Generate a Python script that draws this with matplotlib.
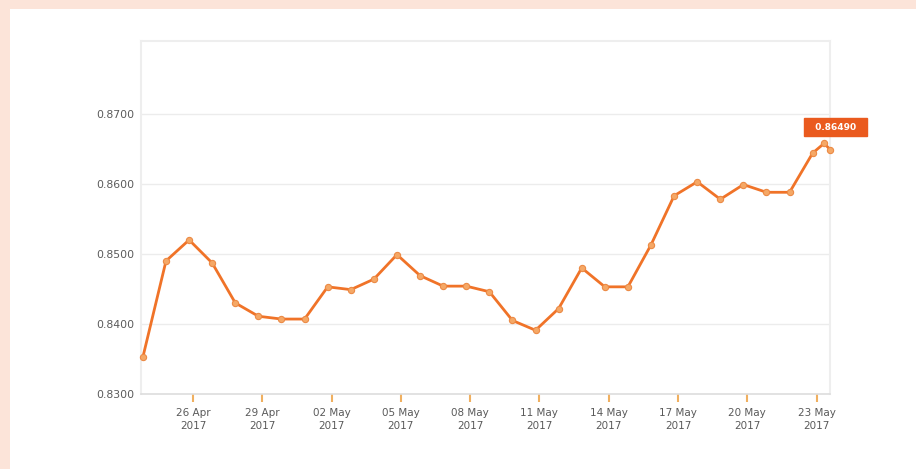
import matplotlib
matplotlib.use("Agg")
import matplotlib.pyplot as plt
import pandas as pd
from matplotlib.patches import Rectangle

# Data (EUR/GBP-like daily rate)
dates = list(pd.date_range("2017-04-24", "2017-05-23", freq="D")) + [
    pd.Timestamp("2017-05-23 12:00"), pd.Timestamp("2017-05-23 18:00")]
values = [0.8353, 0.8490, 0.8520, 0.8487, 0.8430, 0.8411, 0.8407, 0.8407,
          0.8453, 0.8449, 0.8464, 0.8499, 0.8469, 0.8454, 0.8454, 0.8446,
          0.8405, 0.8391, 0.8422, 0.8480, 0.8453, 0.8453, 0.8513, 0.8583,
          0.8603, 0.8578, 0.8599, 0.8588, 0.8588, 0.8644, 0.8658, 0.8649]
tick_dates = pd.date_range("2017-04-26", "2017-05-23", freq="3D")
tick_labels = [d.strftime("%d %b\n%Y") for d in tick_dates]
y_ticks = [0.8300, 0.8400, 0.8500, 0.8600, 0.8700]
last_label = "0.86490"

fig = plt.figure(figsize=(9.16, 4.69), dpi=100)
fig.patch.set_facecolor("#fce4d9")
fig.patches.append(Rectangle((10 / 916, 0), 1, 1 - 9 / 469, transform=fig.transFigure,
                             facecolor="white", edgecolor="none", zorder=-10))

ax = fig.add_axes([141 / 916, 75 / 469, 689 / 916, 353 / 469])
ax.set_facecolor("white")

line_color = "#f07328"
ax.plot(dates, values, color=line_color, lw=2.0, zorder=3, clip_on=False,
        marker="o", markersize=4.5, markerfacecolor="#f5a866",
        markeredgecolor="#ec8a45", markeredgewidth=0.8)

x0 = pd.Timestamp("2017-04-24") - pd.Timedelta(hours=2)
x1 = pd.Timestamp("2017-05-23 18:00")
ax.set_xlim(x0, x1)
ax.set_ylim(0.8300, 0.8804)

ax.set_yticks(y_ticks)
ax.set_yticklabels([f"{v:.4f}" for v in y_ticks])
# tick marks sit slightly after midnight in the reference
ax.set_xticks(tick_dates + pd.Timedelta(hours=4))
ax.set_xticklabels(tick_labels)

ax.tick_params(axis="y", length=0, pad=5, labelsize=7.8, labelcolor="#5a5a5a")
ax.tick_params(axis="x", length=6, width=1.5, color="#f0b060", pad=4,
               labelsize=7.5, labelcolor="#5a5a5a")
for lab in ax.get_xticklabels():
    lab.set_linespacing(1.45)

ax.grid(axis="y", color="#ececec", lw=1)
ax.set_axisbelow(True)
for side in ["top", "left", "right"]:
    ax.spines[side].set_color("#eeeeee")
    ax.spines[side].set_linewidth(1.5)
ax.spines["bottom"].set_color("#dddddd")
ax.spines["bottom"].set_linewidth(1.2)

ax.annotate("  " + last_label + "  ", xy=(dates[-1], values[-1]), xytext=(4, 16),
            textcoords="offset points", ha="center", va="center",
            fontsize=6.5, fontweight="bold", color="white", zorder=5,
            annotation_clip=False,
            bbox=dict(boxstyle="square,pad=0.5", facecolor="#ea5a1e",
                      edgecolor="#ea5a1e"))

fig.savefig("out.png", dpi=100, facecolor=fig.get_facecolor())
